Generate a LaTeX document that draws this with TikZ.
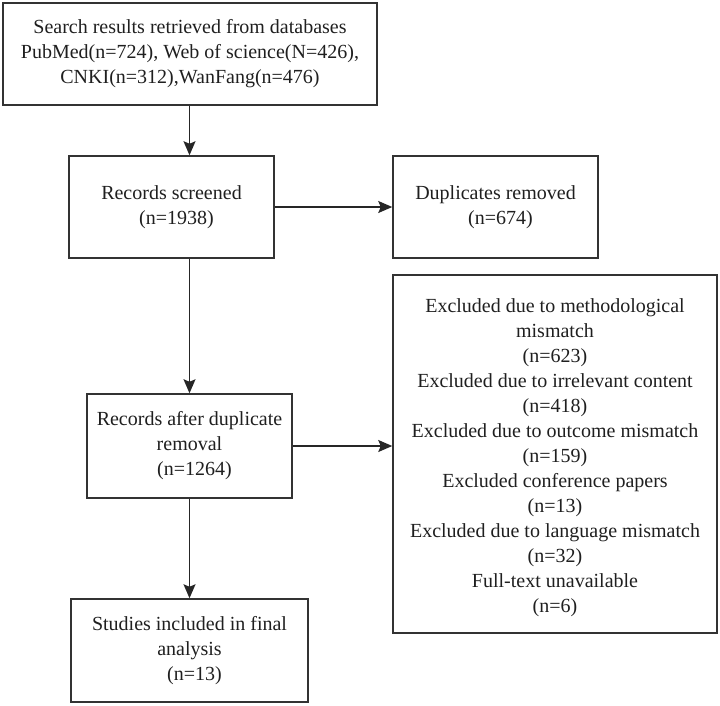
\documentclass[tikz,border=0pt]{standalone}
\usepackage{fontspec}
\setmainfont{Liberation Serif}
\usetikzlibrary{arrows.meta}

\begin{document}
\begin{tikzpicture}[x=1pt, y=-1pt,
  box/.style={draw=black!80, line width=1.5pt, rectangle, inner sep=0pt,
    align=center, font=\fontsize{20}{25}\selectfont, text=black!88},
  plain/.style={inner sep=0pt, align=center,
    font=\fontsize{20}{25}\selectfont, text=black!88},
  arr/.style={draw=black!85, line width=1.5pt,
    -{Stealth[length=14pt, width=12pt, inset=2.5pt]}}]

  % page frame
  \useasboundingbox (0,0) rectangle (720,705);

  % flow boxes
  \node[box, minimum width=374pt, minimum height=102pt] (search) at (190,54)
    {Search results retrieved from databases\\
     PubMed(n=724), Web of science(N=426),\\
     CNKI(n=312),WanFang(n=476)};

  \node[box, minimum width=205pt, minimum height=102pt] (screened) at (171.5,207)
    {Records screened\\ \hspace*{10pt}(n=1938)};

  \node[box, minimum width=205pt, minimum height=102pt] (dups) at (495.5,207)
    {Duplicates removed\\ \hspace*{10pt}(n=674)};

  \node[box, minimum width=205pt, minimum height=104pt] (after) at (189.5,446)
    {Records after duplicate\\ removal\\ \hspace*{10pt}(n=1264)};

  % exclusion box: frame and its list of reasons
  \node[box, minimum width=324pt, minimum height=358pt] (excl) at (555,454) {};
  \node[plain] (excltext) at ([yshift=-4pt]excl.center)
    {Excluded due to methodological\\ mismatch\\ (n=623)\\
     Excluded due to irrelevant content\\ (n=418)\\
     Excluded due to outcome mismatch\\ (n=159)\\
     Excluded conference papers\\ (n=13)\\
     Excluded due to language mismatch\\ (n=32)\\
     Full-text unavailable\\ (n=6)};

  \node[box, minimum width=237pt, minimum height=103pt] (final) at (189.5,650.5)
    {Studies included in final\\ analysis\\ \hspace*{10pt}(n=13)};

  % connectors
  \draw[arr] (search.south -| after.north) -- (screened.north -| after.north);
  \draw[arr] (screened.east) -- (dups.west);
  \draw[arr] (screened.south -| after.north) -- (after.north);
  \draw[arr] (after.east) -- (after.east -| excl.west);
  \draw[arr] (after.south) -- (final.north);
\end{tikzpicture}
\end{document}
